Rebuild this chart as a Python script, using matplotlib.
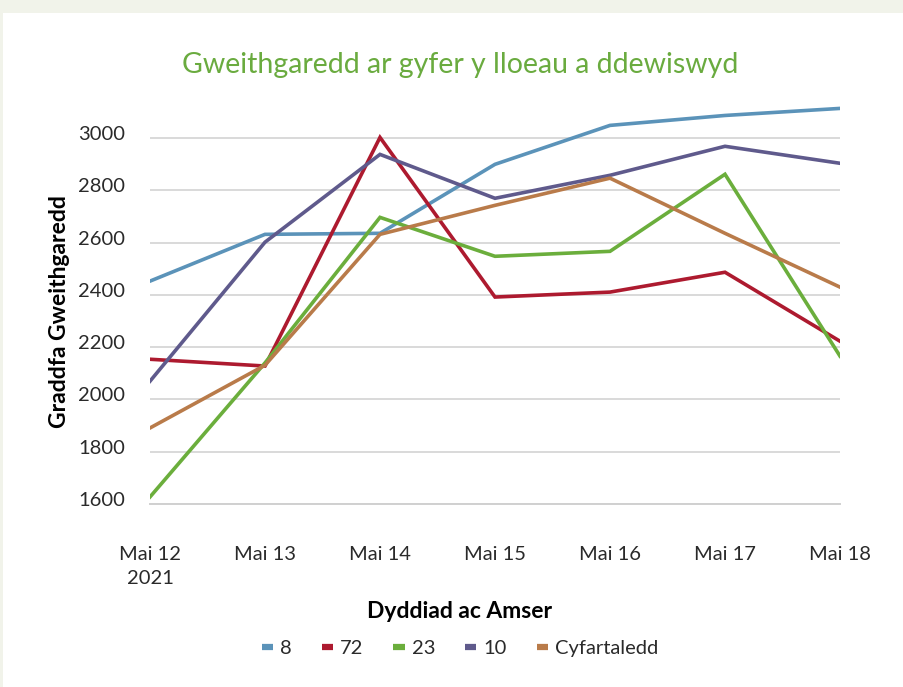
import matplotlib
matplotlib.use("Agg")
import matplotlib.pyplot as plt
from matplotlib.lines import Line2D
from matplotlib.patches import Rectangle
import matplotlib.transforms as mtransforms

plt.rcParams["font.family"] = ["Lato", "DejaVu Sans"]

# data
days = ["Mai 12\n2021", "Mai 13", "Mai 14", "Mai 15", "Mai 16", "Mai 17", "Mai 18"]
s8 = [2453, 2632, 2636, 2900, 3049, 3087, 3114]
s72 = [2154, 2128, 3003, 2392, 2411, 2487, 2223]
s23 = [1627, 2140, 2697, 2548, 2567, 2862, 2166]
s10 = [2070, 2602, 2938, 2770, 2858, 2969, 2904]
avg = [1891, 2131, 2632, 2743, 2847, 2636, 2430]
yticks = [1600, 1800, 2000, 2200, 2400, 2600, 2800, 3000]

series = [
    ("8", s8, "#5b93b9"),
    ("72", s72, "#ad1a2f"),
    ("23", s23, "#6bae3c"),
    ("10", s10, "#5f5a8c"),
    ("Cyfartaledd", avg, "#b97b4a"),
]

fig = plt.figure(figsize=(9.04, 6.87), dpi=100)
fig.patch.set_facecolor("#f1f3ea")
fig.patches.append(Rectangle((3 / 904, 0), 1, 1 - 13 / 687, transform=fig.transFigure,
                             facecolor="white", edgecolor="none", zorder=-10))

ax = fig.add_axes([150 / 904, 183 / 687, 690 / 904, 405 / 687])
ax.set_facecolor("white")

x = list(range(len(days)))
for name, vals, col in series:
    ax.plot(x, vals, color=col, lw=2.6, solid_joinstyle="miter", label=name)

ax.set_xlim(0, 6)
ax.set_ylim(1600, 3150)
ax.set_yticks(yticks)
ax.set_xticks(x)
ax.set_xticklabels(days, fontsize=14.5, color="#2a2a2a", linespacing=1.5)
ax.set_xticks([0, 6], minor=True)
ax.tick_params(axis="x", which="major", length=0, pad=30)
ax.tick_params(axis="x", which="minor", length=9, width=1.2, color="#d0d0d0", direction="out")
ax.tick_params(axis="y", length=0, pad=18, labelsize=14.5, labelcolor="#2a2a2a")
for lab in ax.get_yticklabels():
    lab.set_transform(lab.get_transform() +
                      mtransforms.ScaledTranslation(0, 5 / 100, fig.dpi_scale_trans))

ax.grid(axis="y", color="#d9d9d9", lw=1.4)
ax.set_axisbelow(True)
for side in ["top", "right", "left"]:
    ax.spines[side].set_visible(False)
ax.spines["bottom"].set_color("#d0d0d0")
ax.spines["bottom"].set_linewidth(1.4)

fig.text(460 / 904, 1 - 65 / 687, "Gweithgaredd ar gyfer y lloeau a ddewiswyd",
         ha="center", va="center", fontsize=20.5, color="#6aab3f")
fig.text(60 / 904, 1 - 312 / 687, "Graddfa Gweithgaredd", rotation=90,
         ha="center", va="center", fontsize=16.5, fontweight="bold", color="black")
fig.text(460 / 904, 1 - 611 / 687, "Dyddiad ac Amser",
         ha="center", va="center", fontsize=16.5, fontweight="bold", color="black")

handles = [Line2D([0], [0], color=col, lw=4.5, solid_capstyle="butt") for _, _, col in series]
fig.legend(handles, [s[0] for s in series], loc="center", ncol=5,
           bbox_to_anchor=(460 / 904, 1 - 648 / 687), frameon=False,
           handlelength=0.55, handletextpad=0.35, columnspacing=1.5,
           prop={"size": 14.5}, labelcolor="#2a2a2a")

fig.savefig("out.png", dpi=100, facecolor=fig.get_facecolor())
